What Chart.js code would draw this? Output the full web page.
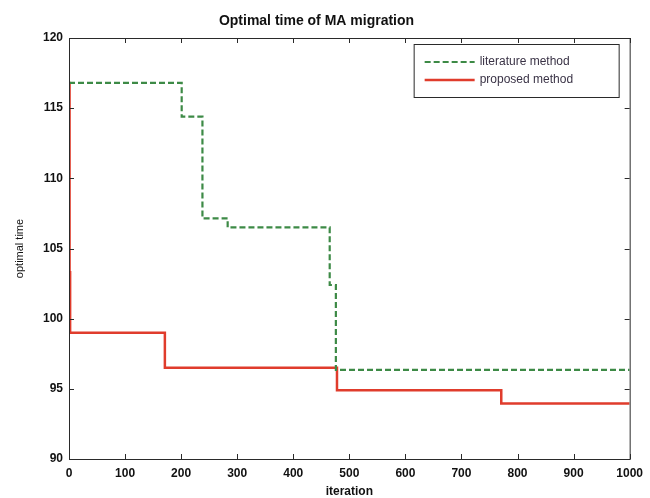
<!DOCTYPE html>
<html>
<head>
<meta charset="utf-8">
<script src="https://cdn.jsdelivr.net/npm/chart.js@4"></script>
<style>
  html, body { margin: 0; padding: 0; background: #ffffff; }
  #wrap { width: 650px; height: 498px; }
</style>
</head>
<body>
<div id="wrap"><canvas id="chart" width="650" height="498"></canvas></div>
<script>
// Iteration at which each level begins, and the optimal time from there on
const iterLiterature = [0, 201, 238, 283, 465, 476, 1000];
const timeLiterature = [116.8, 114.4, 107.15, 106.5, 102.4, 96.35, 96.35];
const iterProposed = [0, 1, 2, 171, 478, 771, 1000];
const timeProposed = [116.8, 103.3, 99.0, 96.5, 94.9, 93.95, 93.95];

const seriesNames = ['literature method', 'proposed method'];
const xTicks = [0, 100, 200, 300, 400, 500, 600, 700, 800, 900, 1000];
const yTicks = [90, 95, 100, 105, 110, 115, 120];

const GREEN = '#3d8a46';
const RED = '#e03c2c';
const AXIS = '#2a2a2a';
const FONT = '"Liberation Sans", Arial, sans-serif';

const toPoints = (xs, ys) => xs.map((x, i) => ({ x: x, y: ys[i] }));

// Box frame with inward tick marks on all four sides
const frameTicks = {
  id: 'frameTicks',
  afterDatasetsDraw(chart) {
    const { ctx, chartArea: a, scales } = chart;
    ctx.save();
    ctx.strokeStyle = AXIS;
    ctx.lineWidth = 1;
    ctx.strokeRect(a.left + 0.5, a.top + 0.5, a.right - a.left, a.bottom - a.top);
    const len = 5;
    ctx.beginPath();
    xTicks.forEach(v => {
      const px = Math.round(scales.x.getPixelForValue(v)) + 0.5;
      ctx.moveTo(px, a.bottom); ctx.lineTo(px, a.bottom - len);
      ctx.moveTo(px, a.top); ctx.lineTo(px, a.top + len);
    });
    yTicks.forEach(v => {
      const py = Math.round(scales.y.getPixelForValue(v)) + 0.5;
      ctx.moveTo(a.left, py); ctx.lineTo(a.left + len, py);
      ctx.moveTo(a.right, py); ctx.lineTo(a.right - len, py);
    });
    ctx.stroke();
    ctx.restore();
  }
};

// Legend box in the upper right corner of the plot
const boxLegend = {
  id: 'boxLegend',
  afterDraw(chart) {
    const { ctx, chartArea: a } = chart;
    const right = a.right - 11, top = a.top + 6;
    const left = right - 205, bottom = top + 53;
    ctx.save();
    ctx.fillStyle = '#ffffff';
    ctx.fillRect(left, top, right - left, bottom - top);
    ctx.strokeStyle = AXIS;
    ctx.lineWidth = 1;
    ctx.strokeRect(left + 0.5, top + 0.5, right - left, bottom - top);
    const rows = [
      { name: seriesNames[0], color: GREEN, dash: [6, 3], width: 2.2, y: top + 18 },
      { name: seriesNames[1], color: RED, dash: [], width: 2.5, y: top + 36 }
    ];
    rows.forEach(r => {
      ctx.beginPath();
      ctx.setLineDash(r.dash);
      ctx.strokeStyle = r.color;
      ctx.lineWidth = r.width;
      ctx.moveTo(left + 11, r.y);
      ctx.lineTo(left + 61, r.y);
      ctx.stroke();
      ctx.setLineDash([]);
      ctx.fillStyle = '#3a3346';
      ctx.font = '12px ' + FONT;
      ctx.textBaseline = 'middle';
      ctx.textAlign = 'left';
      ctx.fillText(r.name, left + 66, r.y);
    });
    ctx.restore();
  }
};

new Chart(document.getElementById('chart'), {
  type: 'line',
  data: {
    datasets: [
      {
        label: seriesNames[0],
        data: toPoints(iterLiterature, timeLiterature),
        borderColor: GREEN,
        borderWidth: 2.2,
        borderDash: [6, 3],
        stepped: 'before',
        pointRadius: 0,
        fill: false
      },
      {
        label: seriesNames[1],
        data: toPoints(iterProposed, timeProposed),
        borderColor: RED,
        borderWidth: 2.5,
        stepped: 'before',
        pointRadius: 0,
        fill: false
      }
    ]
  },
  options: {
    responsive: false,
    animation: false,
    layout: { padding: { left: 0, right: 17, top: 0, bottom: 0 } },
    plugins: {
      legend: { display: false },
      tooltip: { enabled: false },
      title: {
        display: true,
        text: 'Optimal time of MA migration',
        color: '#111111',
        font: { family: FONT, size: 14, weight: 'bold' },
        padding: { top: 13, bottom: 8.2 }
      }
    },
    scales: {
      x: {
        type: 'linear',
        min: 0,
        max: 1000,
        afterBuildTicks: s => { s.ticks = xTicks.map(v => ({ value: v })); },
        afterFit: s => { s.height = 39; },
        grid: { display: false, drawTicks: false },
        border: { display: false },
        ticks: {
          color: '#111111',
          padding: 7,
          maxRotation: 0,
          callback: v => String(v),
          font: { family: FONT, size: 12, weight: 'bold' }
        },
        title: {
          display: true,
          text: 'iteration',
          color: '#111111',
          font: { family: FONT, size: 12, weight: 'bold' },
          padding: { top: 0, bottom: -1 }
        }
      },
      y: {
        type: 'linear',
        min: 90,
        max: 120,
        afterBuildTicks: s => { s.ticks = yTicks.map(v => ({ value: v })); },
        afterFit: s => { s.width = 69; },
        grid: { display: false, drawTicks: false },
        border: { display: false },
        ticks: {
          color: '#111111',
          padding: 6,
          callback: v => String(v),
          font: { family: FONT, size: 12, weight: 'bold' }
        },
        title: {
          display: true,
          text: 'optimal time',
          color: '#111111',
          font: { family: FONT, size: 11 },
          padding: { top: 13, bottom: 0 }
        }
      }
    }
  },
  plugins: [frameTicks, boxLegend]
});
</script>
</body>
</html>
